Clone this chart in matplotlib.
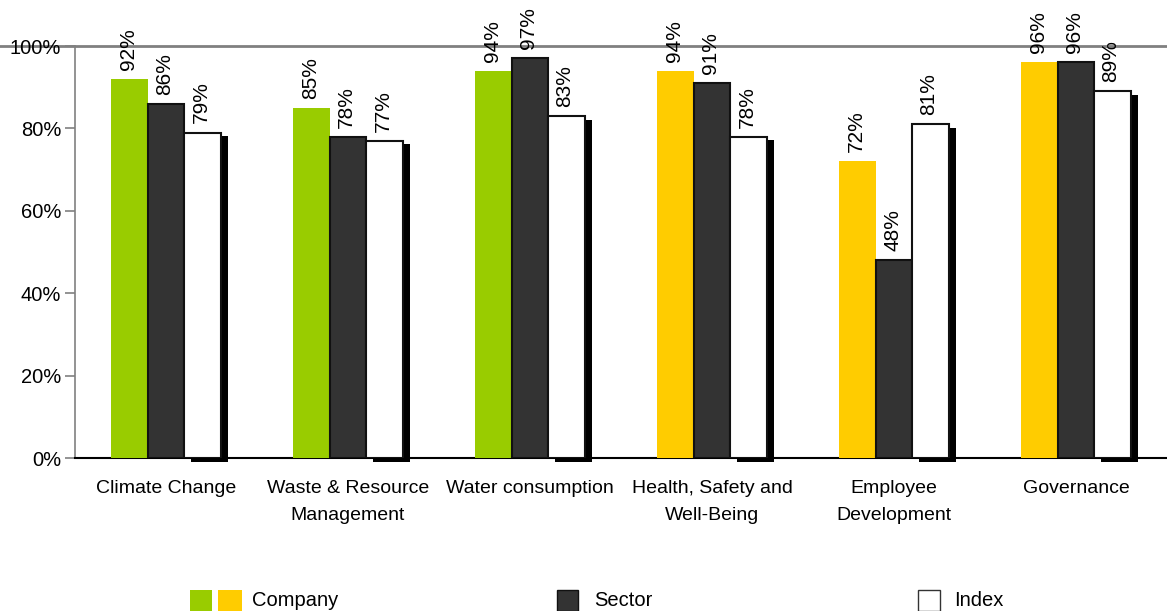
import numpy as np
import matplotlib.pyplot as plt
from matplotlib.patches import Rectangle

plt.rcParams['font.family'] = ['Liberation Sans', 'DejaVu Sans']
plt.rcParams['font.size'] = 14.5

categories = ['Climate Change', 'Waste & Resource\nManagement', 'Water consumption',
              'Health, Safety and\nWell-Being', 'Employee\nDevelopment', 'Governance']
company = [92, 85, 94, 94, 72, 96]
sector = [86, 78, 97, 91, 48, 96]
index = [79, 77, 83, 78, 81, 89]
company_colors = ['#99CC00', '#99CC00', '#99CC00', '#FFCC00', '#FFCC00', '#FFCC00']
yticks = [0, 20, 40, 60, 80, 100]

green = '#99CC00'
yellow = '#FFCC00'
dark = '#333333'
w = 0.2

fig = plt.figure(figsize=(11.67, 6.11), dpi=100)
ax = fig.add_axes([75 / 1167, 1 - 458 / 611, 1 - 75 / 1167, (458 - 46) / 611])

x = np.arange(len(categories))

ax.bar(x - w, company, w, color=company_colors, linewidth=0, zorder=3)
ax.bar(x, sector, w, color=dark, edgecolor='#111111', linewidth=1.5, zorder=3)
# drop shadow behind the index bars
ax.bar(x + w + 0.038, index, w, bottom=-0.9, color='black', linewidth=0,
       zorder=2, clip_on=False)
ax.bar(x + w, index, w, color='white', edgecolor='#111111', linewidth=1.5, zorder=3)

for xs, vals in [(x - w, company), (x, sector), (x + w, index)]:
    for xi, v in zip(xs, vals):
        ax.annotate(f'{v}%', (xi, v), xytext=(-1, 6.5), textcoords='offset points',
                    rotation=90, ha='center', va='bottom', fontsize=15,
                    annotation_clip=False, zorder=5)

ax.set_xlim(-0.5, len(categories) - 0.5)
ax.set_ylim(0, 100)
ax.set_yticks(yticks)
ax.set_yticklabels([f'{t}%' for t in yticks])
ax.set_xticks(x)
ax.set_xticklabels(categories, linespacing=1.72, fontsize=14)
ax.tick_params(axis='x', length=0, pad=16)
ax.tick_params(axis='y', length=7, width=1.2, color='#808080', pad=3)

ax.spines['right'].set_visible(False)
ax.spines['left'].set_color('#808080')
ax.spines['left'].set_linewidth(1.2)
ax.spines['top'].set_visible(False)
ax.spines['bottom'].set_color('black')
ax.spines['bottom'].set_linewidth(1.5)
# grey line across the top at 100%
ax.plot([-0.08, 1], [1, 1], transform=ax.transAxes, color='#808080', lw=2,
        clip_on=False, zorder=1)

# legend drawn by hand in figure pixels
W, H = 1167, 611
def patch(x0, x1, color, edge=None):
    fig.patches.append(Rectangle((x0 / W, 0), (x1 - x0) / W, (611 - 590) / H,
                                 transform=fig.transFigure, facecolor=color,
                                 edgecolor=edge or color, linewidth=1 if edge else 0))

patch(190, 212, green)
patch(218, 242, yellow)
patch(557, 578, dark, '#111111')
patch(918, 940, 'white', '#333333')
for tx, label in [(252, 'Company'), (594, 'Sector'), (954, 'Index')]:
    fig.text(tx / W, 1 - 601 / H, label, ha='left', va='center', fontsize=14.5)

fig.savefig('out.png', dpi=100)
